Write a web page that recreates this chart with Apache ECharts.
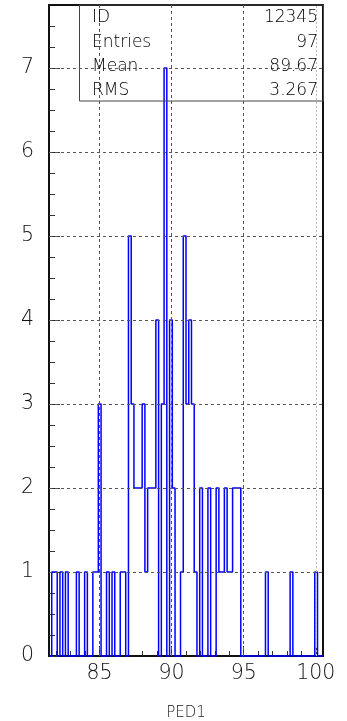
<!DOCTYPE html>
<html><head><meta charset="utf-8">
<script src="https://cdn.jsdelivr.net/npm/echarts@6/dist/echarts.min.js"></script>
<style>html,body{margin:0;padding:0;background:#fff;}#c{width:347px;height:721px;}</style>
</head><body><div id="c"></div>
<script>
// Histogram definition (100 bins between xMin and xMax)
const xMin = 81.5;
const xMax = 100.5;
const counts = [
  0,1,1,0,1,0,1,0,0,0,
  1,0,0,1,0,0,1,1,3,0,
  0,1,0,1,0,0,1,1,0,5,
  3,2,2,2,3,1,2,2,2,4,
  0,3,7,0,4,2,0,0,1,5,
  3,4,3,1,0,2,0,0,2,0,
  0,2,1,1,2,1,1,2,2,2,
  0,0,0,0,0,0,0,0,0,1,
  0,0,0,0,0,0,0,0,1,0,
  0,0,0,0,0,0,0,1,0,0
];
const xTickLabels = [85, 90, 95, 100];
const xMinorTicks = [82,83,84,86,87,88,89,91,92,93,94,96,97,98,99];
const yTickLabels = [0, 1, 2, 3, 4, 5, 6, 7];
const yMax = 7.75;
const statNames = ['ID', 'Entries', 'Mean', 'RMS'];
const statValues = ['12345', '97', '89.67', '3.267'];
const xTitle = 'PED1';

const FONT = 'DejaVu Sans';
const nBins = counts.length;
const w = (xMax - xMin) / nBins;
const outline = [[xMin, 0]];
counts.forEach((c, i) => {
  outline.push([xMin + i * w, c]);
  outline.push([xMin + (i + 1) * w, c]);
});
outline.push([xMax, 0]);

const yMinor = [];
for (let v = 0.25; v < yMax; v += 0.25) { if (Math.abs(v - Math.round(v)) > 1e-6) yMinor.push(v); }

const gridLines = [];
yTickLabels.slice(1).forEach(v => gridLines.push({ yAxis: v }));
xTickLabels.forEach(v => {
  const d = { xAxis: v };
  if (v === 100) d.lineStyle = { color: '#bbb', width: 1, type: [2, 2] };
  gridLines.push(d);
});

const chart = echarts.init(document.getElementById('c'), null, { renderer: 'canvas' });
const rowY = [18, 43, 67, 91];
const graphics = [{
  type: 'rect', silent: true, z: 5,
  shape: { x: 79.5, y: 5, width: 244, height: 96 },
  style: { fill: 'none', stroke: '#444', lineWidth: 1 }
}];
statNames.forEach((n, i) => {
  graphics.push({ type: 'text', silent: true, z: 6, x: 92, y: rowY[i],
    style: { text: n, font: '200 17px "' + FONT + '"', fill: '#000', textVerticalAlign: 'middle', textAlign: 'left' } });
  graphics.push({ type: 'text', silent: true, z: 6, x: 318, y: rowY[i],
    style: { text: statValues[i], font: '200 17px "' + FONT + '"', fill: '#000', textVerticalAlign: 'middle', textAlign: 'right' } });
});

chart.setOption({
  animation: false,
  backgroundColor: '#fff',
  grid: { left: 49, right: 24, top: 5, bottom: 65, show: true, borderColor: '#111', borderWidth: 2,
          containLabel: false, outerBoundsMode: 'none' },
  xAxis: [{
    type: 'value', min: xMin, max: xMax, position: 'bottom',
    axisLine: { show: true, onZero: false, lineStyle: { color: '#111', width: 2 } },
    axisTick: { show: true, inside: true, length: 10, customValues: xTickLabels, lineStyle: { color: '#333' } },
    axisLabel: { customValues: xTickLabels, fontFamily: FONT, fontWeight: 200, fontSize: 20.5, color: '#111', margin: 7 },
    splitLine: { show: false },
    name: xTitle, nameLocation: 'middle', nameGap: 50,
    nameTextStyle: { fontFamily: FONT, fontWeight: 200, fontSize: 15, color: '#222' }
  }, {
    type: 'value', min: xMin, max: xMax, position: 'bottom',
    axisLine: { show: false },
    axisTick: { show: true, inside: true, length: 5, customValues: xMinorTicks, lineStyle: { color: '#333' } },
    axisLabel: { show: false }, splitLine: { show: false }
  }],
  yAxis: [{
    type: 'value', min: 0, max: yMax, position: 'left',
    axisLine: { show: true, onZero: false, lineStyle: { color: '#111', width: 2 } },
    axisTick: { show: true, inside: true, length: 11, customValues: yTickLabels, lineStyle: { color: '#333' } },
    axisLabel: { customValues: yTickLabels, fontFamily: FONT, fontWeight: 200, fontSize: 20.5, color: '#111', margin: 15 },
    splitLine: { show: false }
  }, {
    type: 'value', min: 0, max: yMax, position: 'left',
    axisLine: { show: false },
    axisTick: { show: true, inside: true, length: 6, customValues: yMinor, lineStyle: { color: '#333' } },
    axisLabel: { show: false }, splitLine: { show: false }
  }],
  graphic: graphics,
  series: [{
    type: 'line', data: [[xMin, 0], [xMax, 0]], xAxisIndex: 0, yAxisIndex: 0, z: 1, silent: true,
    showSymbol: false, symbol: 'none', lineStyle: { opacity: 0 },
    markLine: {
      silent: true, symbol: ['none', 'none'], animation: false,
      label: { show: false },
      lineStyle: { color: '#555', width: 1, type: [3, 3] },
      data: gridLines
    }
  }, {
    type: 'line', data: outline, xAxisIndex: 0, yAxisIndex: 0, z: 3,
    showSymbol: false, symbol: 'none', clip: false, silent: true,
    lineStyle: { color: '#0000ff', width: 1.5 }
  }]
});
</script></body></html>
